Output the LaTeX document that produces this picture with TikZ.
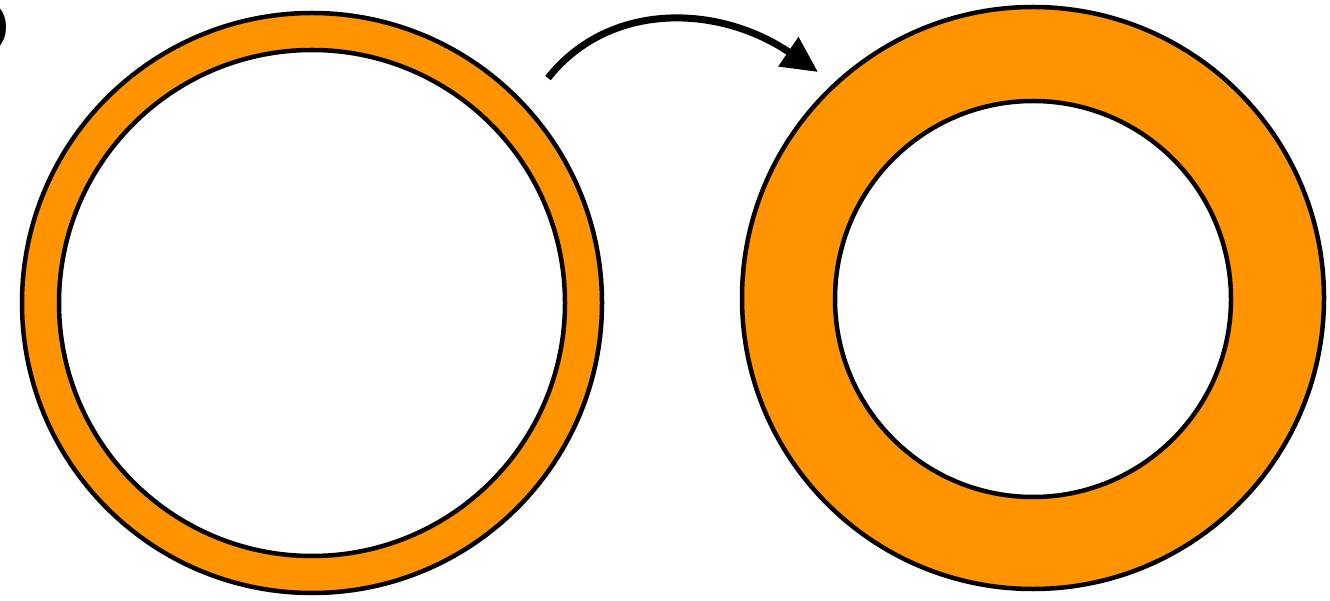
\documentclass[tikz,border=0pt]{standalone}
\usetikzlibrary{arrows.meta}
\definecolor{ringorange}{RGB}{255,148,0}
\begin{document}
\begin{tikzpicture}[x=1pt,y=-1pt,
  ring/.style={fill=ringorange,draw=black,line width=4.5pt},
  hole/.style={fill=white,draw=black,line width=4.5pt},
  curvearrow/.style={line width=7pt,-{Triangle[length=36pt,width=34pt]}}]
\useasboundingbox (0,0) rectangle (1330,601);
\clip (0,0) rectangle (1330,601);
\node[anchor=east,inner sep=0pt,font=\fontsize{44}{44}\selectfont\sffamily\bfseries] (lbl) at (11,28) {)};
\path[ring] (312,303) circle[radius=290];
\path[hole] (312,303) circle[radius=253];
\path[ring] (1033,298) circle[radius=291];
\path[hole] (1033,299) circle[radius=198];
\coordinate (s) at (548,78);
\coordinate (e) at (818,72);
\draw[curvearrow] (s) .. controls (610,0) and (720,5) .. (e);
\end{tikzpicture}
\end{document}
